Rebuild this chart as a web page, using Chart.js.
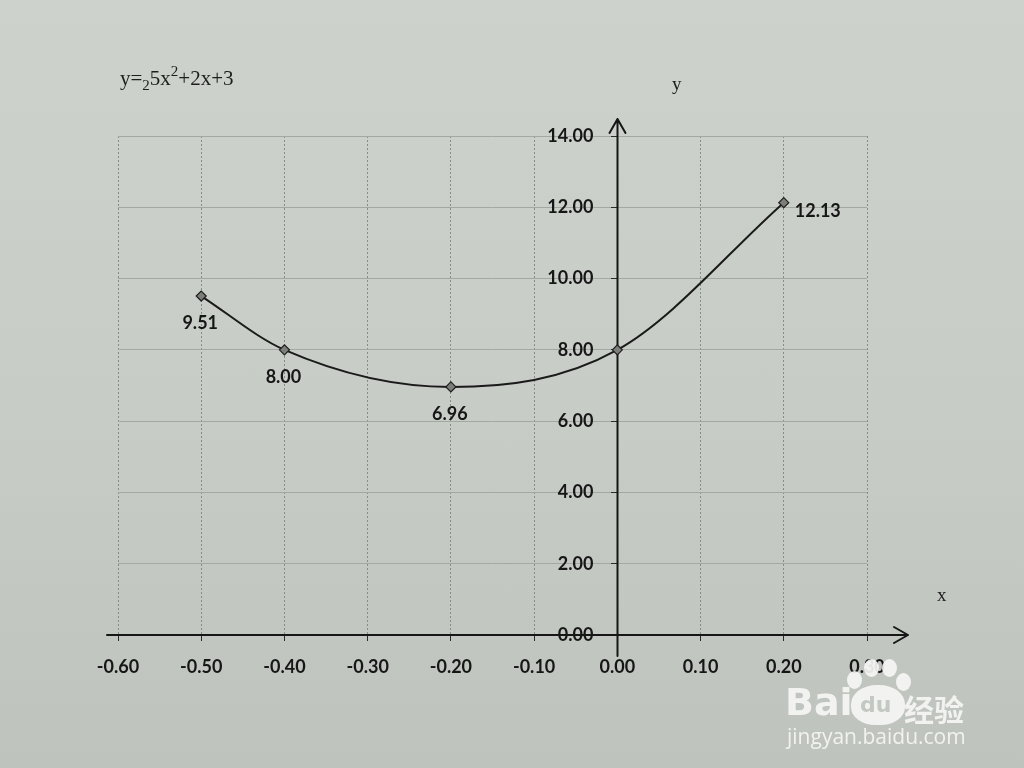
<!DOCTYPE html>
<html>
<head>
<meta charset="utf-8">
<script src="https://cdn.jsdelivr.net/npm/chart.js@4/dist/chart.umd.min.js"></script>
<style>
html,body{margin:0;padding:0;}
body{width:1024px;height:768px;overflow:hidden;position:relative;
  background:linear-gradient(180deg,#cdd2cc 0%,#c7ccc6 55%,#bec3bd 100%);}
#c{position:absolute;left:0;top:0;}
.serif{position:absolute;font-family:"Liberation Serif","DejaVu Serif",serif;color:#1e1e1e;font-size:19px;line-height:1;white-space:nowrap;}
.sub{font-size:15px;position:relative;top:5px;}
.sup{font-size:15px;position:relative;top:-9px;}
.wm{position:absolute;color:rgba(246,246,244,0.92);white-space:nowrap;line-height:1;}
.toe{position:absolute;background:rgba(246,246,244,0.92);border-radius:50%;}
</style>
</head>
<body>
<canvas id="c" width="1024" height="768"></canvas>

<div class="serif" style="left:120px;top:68px;font-size:21px;">y=<span class="sub">2</span>5x<span class="sup">2</span>+2x+3</div>
<div class="serif" style="left:672px;top:74px;">y</div>
<div class="serif" style="left:937px;top:585px;">x</div>

<!-- watermark -->
<div class="wm" style="left:785px;top:680px;font:bold 38px 'DejaVu Sans',sans-serif;">Bai</div>
<div class="toe" style="left:851px;top:685px;width:54px;height:40px;border-radius:48% 48% 45% 45%;"></div>
<div class="toe" style="left:847px;top:671px;width:15px;height:18px;"></div>
<div class="toe" style="left:864px;top:659px;width:15px;height:18px;"></div>
<div class="toe" style="left:882px;top:659px;width:15px;height:18px;"></div>
<div class="toe" style="left:896px;top:673px;width:15px;height:18px;"></div>
<div class="wm" style="left:860px;top:692px;font:bold 22px 'DejaVu Sans',sans-serif;color:#c3c8c2;">du</div>
<div class="wm" style="left:904px;top:686px;font:bold 30px 'Noto Sans CJK SC',sans-serif;">经验</div>
<div class="wm" style="left:787px;top:722px;font:21px 'Open Sans','DejaVu Sans',sans-serif;">jingyan.baidu.com</div>

<script>
// ---- data ----
const xValues = [-0.5, -0.4, -0.2, 0.0, 0.2];
const yValues = [9.51, 8.00, 6.96, 8.00, 12.13];
const pointLabels = ['9.51', '8.00', '6.96', '', '12.13'];
const labelPlacement = ['below', 'below', 'below', 'none', 'right'];
const xMin = -0.6, xMax = 0.3, xStep = 0.1;
const yMin = 0, yMax = 14, yStep = 2;

const points = xValues.map((x, i) => ({x: x, y: yValues[i]}));
const fmt = v => (Math.abs(v) < 1e-9 ? 0 : v).toFixed(2);
const tickFont = {family: 'Lato, "Open Sans", sans-serif', size: 18, weight: 'bold'};
const ink = '#161616';
const yLabelGap = 24;

const axesArrows = {
  id: 'axesArrows',
  beforeDraw(chart) {
    // shift y tick labels left of the centred y axis
    const items = chart.scales.y.getLabelItems();
    items.forEach(it => {
      if (!it._shifted) { it.options.translation[0] -= yLabelGap; it._shifted = true; }
    });
  },
  beforeDatasetsDraw(chart) {
    const {ctx, chartArea: a, scales: {x, y}} = chart;
    const x0 = Math.round(x.getPixelForValue(0)) + 0.5;
    const y0 = Math.round(y.getPixelForValue(0));
    ctx.save();
    ctx.strokeStyle = ink;
    ctx.lineWidth = 2;
    ctx.lineCap = 'round';
    ctx.lineJoin = 'round';
    const xr = a.right + 41;
    ctx.beginPath();
    ctx.moveTo(a.left - 11, y0);
    ctx.lineTo(xr, y0);
    ctx.moveTo(xr - 14, y0 - 8);
    ctx.lineTo(xr, y0);
    ctx.lineTo(xr - 14, y0 + 8);
    ctx.stroke();
    const yt = a.top - 17;
    ctx.beginPath();
    ctx.moveTo(x0, a.bottom + 21);
    ctx.lineTo(x0, yt);
    ctx.moveTo(x0 - 8, yt + 14);
    ctx.lineTo(x0, yt);
    ctx.lineTo(x0 + 8, yt + 14);
    ctx.stroke();
    ctx.restore();
  }
};

const valueLabels = {
  id: 'valueLabels',
  afterDatasetsDraw(chart) {
    const {ctx} = chart;
    const meta = chart.getDatasetMeta(0);
    ctx.save();
    ctx.font = 'bold 18px Lato, "Open Sans", sans-serif';
    ctx.fillStyle = ink;
    ctx.textBaseline = 'middle';
    meta.data.forEach((pt, i) => {
      const txt = pointLabels[i];
      if (!txt || labelPlacement[i] === 'none') return;
      if (labelPlacement[i] === 'below') {
        ctx.textAlign = 'center';
        ctx.fillText(txt, pt.x - 1, pt.y + 27);
      } else {
        ctx.textAlign = 'left';
        ctx.fillText(txt, pt.x + 11, pt.y + 9);
      }
    });
    ctx.restore();
  }
};

new Chart(document.getElementById('c'), {
  type: 'line',
  data: {
    datasets: [{
      data: points,
      borderColor: '#1a1a1a',
      borderWidth: 2,
      cubicInterpolationMode: 'monotone',
      fill: false,
      pointStyle: 'rectRot',
      pointRadius: 5,
      pointBackgroundColor: '#7b7e79',
      pointBorderColor: '#1e1e1e',
      pointBorderWidth: 1.2
    }]
  },
  options: {
    responsive: false,
    animation: false,
    devicePixelRatio: 1,
    layout: {padding: {left: 118, right: 157, top: 136, bottom: 133}},
    plugins: {legend: {display: false}, tooltip: {enabled: false}, title: {display: false}},
    scales: {
      x: {
        type: 'linear',
        min: xMin, max: xMax,
        position: {y: 0},
        border: {display: false, dash: [2, 2]},
        grid: {color: '#878c86', lineWidth: 1, tickLength: 6, tickColor: '#2a2a2a', tickBorderDash: []},
        ticks: {stepSize: xStep, callback: v => fmt(v), font: tickFont, color: ink, padding: 15, maxRotation: 0, autoSkip: false}
      },
      y: {
        type: 'linear',
        min: yMin, max: yMax,
        position: {x: 0},
        border: {display: false},
        grid: {color: '#a3a8a2', lineWidth: 1, tickLength: 6, tickColor: '#2a2a2a'},
        ticks: {stepSize: yStep, callback: v => fmt(v), font: tickFont, color: ink}
      }
    }
  },
  plugins: [axesArrows, valueLabels]
});
</script>
</body>
</html>
